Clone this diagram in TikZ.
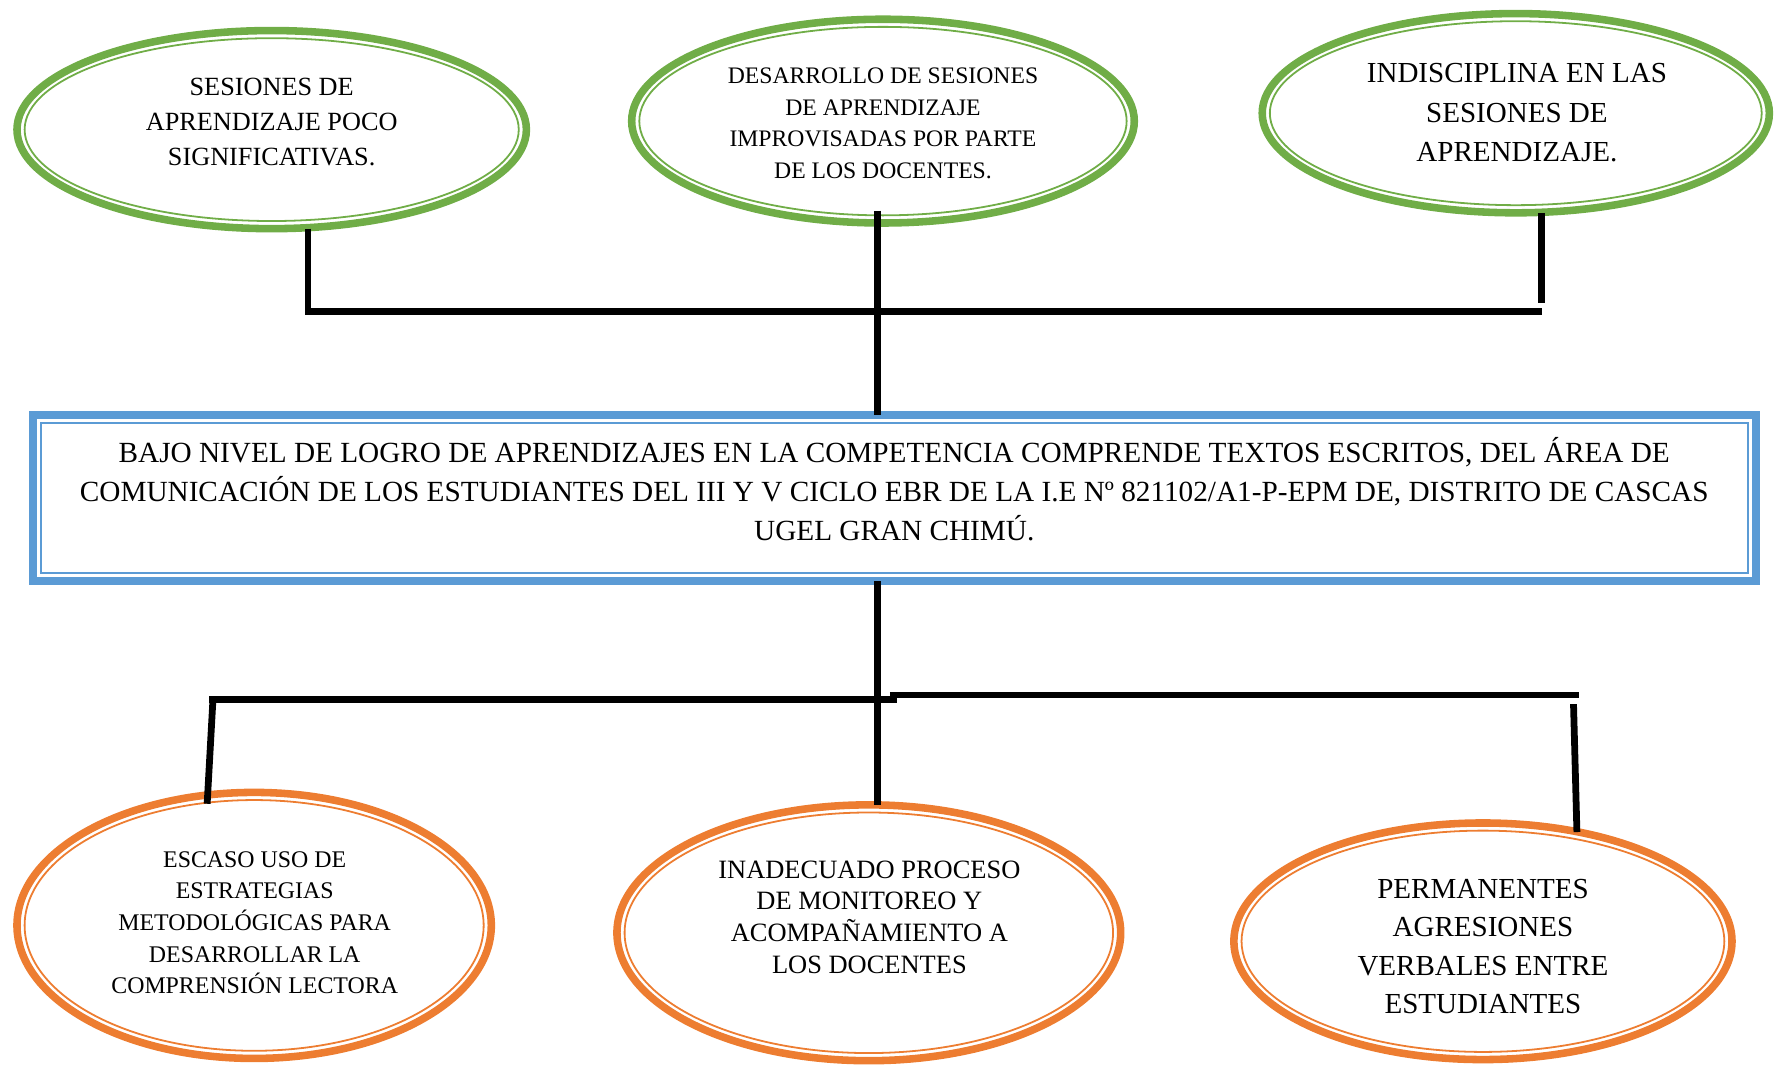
\documentclass[tikz,border=0pt]{standalone}
\usepackage{fontspec}
\setmainfont{Liberation Serif}
\usetikzlibrary{shapes.geometric, calc, positioning}
\definecolor{causacolor}{RGB}{112,173,71}
\definecolor{efectocolor}{RGB}{237,125,49}
\definecolor{problemacolor}{RGB}{91,155,213}

\begin{document}
\begin{tikzpicture}[
    causa/.style={ellipse, draw=causacolor, line width=3.8pt, outer sep=0pt},
    efecto/.style={ellipse, draw=efectocolor, line width=3.8pt, outer sep=0pt},
    problema/.style={rectangle, draw=problemacolor, line width=4pt, outer sep=0pt, minimum width=30.44cm, minimum height=2.94cm},
    txt/.style={align=center, inner sep=0pt},
    linea/.style={line width=3.4pt}
]
    \useasboundingbox (0,0) rectangle (31.36,18.82);

    % Causas
    \node[causa, minimum width=9.00cm, minimum height=3.50cm] (sesiones) at (4.80,16.53) {};
    \node[causa, minimum width=8.88cm, minimum height=3.60cm] (desarrollo) at (15.60,16.68) {};
    \node[causa, minimum width=8.96cm, minimum height=3.52cm] (indisciplina) at (26.78,16.82) {};

    % Problema central
    \node[problema] (problema) at (15.81,10.02) {};

    % Efectos
    \node[efecto, minimum width=8.38cm, minimum height=4.70cm] (estrategias) at (4.49,2.47) {};
    \node[efecto, minimum width=8.90cm, minimum height=4.52cm] (monitoreo) at (15.35,2.34) {};
    \node[efecto, minimum width=8.80cm, minimum height=4.18cm] (agresiones) at (26.20,2.19) {};

    % Lineas interiores
    \foreach \nodo/\col in {sesiones/causacolor, desarrollo/causacolor, indisciplina/causacolor,
                       estrategias/efectocolor, monitoreo/efectocolor, agresiones/efectocolor}
        \draw[\col, line width=0.9pt] let \p1=($(\nodo.east)-(\nodo.center)$), \p2=($(\nodo.north)-(\nodo.center)$) in
            (\nodo.center) ellipse [x radius=\x1-0.135cm, y radius=\y2-0.135cm];
    \draw[problemacolor, line width=1pt] ([shift={(0.14,-0.14)}]problema.north west) rectangle ([shift={(-0.14,0.14)}]problema.south east);

    % Textos
    \node[txt, font=\fontsize{13.2}{17.6}\selectfont] (tsesiones) at (4.80,16.66)
        {SESIONES DE\\APRENDIZAJE POCO\\SIGNIFICATIVAS.};
    \node[txt, font=\fontsize{11.9}{15.9}\selectfont] (tdesarrollo) at (15.60,16.64)
        {DESARROLLO DE SESIONES\\DE APRENDIZAJE\\IMPROVISADAS POR PARTE\\DE LOS DOCENTES.};
    \node[txt, font=\fontsize{14.6}{19.8}\selectfont] (tindisciplina) at (26.80,16.83)
        {INDISCIPLINA EN LAS\\SESIONES DE\\APRENDIZAJE.};
    \node[txt, font=\fontsize{14.7}{19.6}\selectfont] (tproblema) at (15.80,10.17)
        {BAJO NIVEL DE LOGRO DE APRENDIZAJES EN LA COMPETENCIA COMPRENDE TEXTOS ESCRITOS, DEL ÁREA DE\\
         COMUNICACIÓN DE LOS ESTUDIANTES DEL III Y V CICLO EBR DE LA I.E Nº 821102/A1-P-EPM DE, DISTRITO DE CASCAS\\
         UGEL GRAN CHIMÚ.};
    \node[txt, font=\fontsize{12.0}{15.9}\selectfont] (testrategias) at (4.50,2.52)
        {ESCASO USO DE\\ESTRATEGIAS\\METODOLÓGICAS PARA\\DESARROLLAR LA\\COMPRENSIÓN LECTORA};
    \node[txt, font=\fontsize{13.3}{15.9}\selectfont] (tmonitoreo) at (15.36,2.62)
        {INADECUADO PROCESO\\DE MONITOREO Y\\ACOMPAÑAMIENTO A\\LOS DOCENTES};
    \node[txt, font=\fontsize{14.6}{19.3}\selectfont] (tagresiones) at (26.20,2.10)
        {PERMANENTES\\AGRESIONES\\VERBALES ENTRE\\ESTUDIANTES};

    % Puntos de union
    \coordinate (a1) at (5.44,13.32);
    \coordinate (a2) at (27.24,13.32);
    \coordinate (a3) at (27.24,13.46);
    \coordinate (m1) at (15.50,15.10);
    \coordinate (b1) at (3.70,6.46);
    \coordinate (b2) at (15.84,6.46);
    \coordinate (b3) at (3.76,6.42);
    \coordinate (b4) at (3.66,4.62);
    \coordinate (b5) at (15.72,6.54);
    \coordinate (b6) at (27.90,6.54);
    \coordinate (b7) at (27.80,6.38);
    \coordinate (b8) at (27.86,4.12);

    % Conectores superiores
    \draw[linea] (sesiones.south -| a1) |- (a2);
    \draw[linea] (indisciplina.south -| a3) -- (a3);
    \draw[linea] (m1) -- (problema.north -| m1);

    % Conectores inferiores
    \draw[linea] (problema.south -| m1) -- (monitoreo.north -| m1);
    \draw[linea] (b1) -- (b2);
    \draw[linea] (b3) -- (b4);
    \draw[linea] (b5) -- (b6);
    \draw[linea] (b7) -- (b8);
\end{tikzpicture}
\end{document}
